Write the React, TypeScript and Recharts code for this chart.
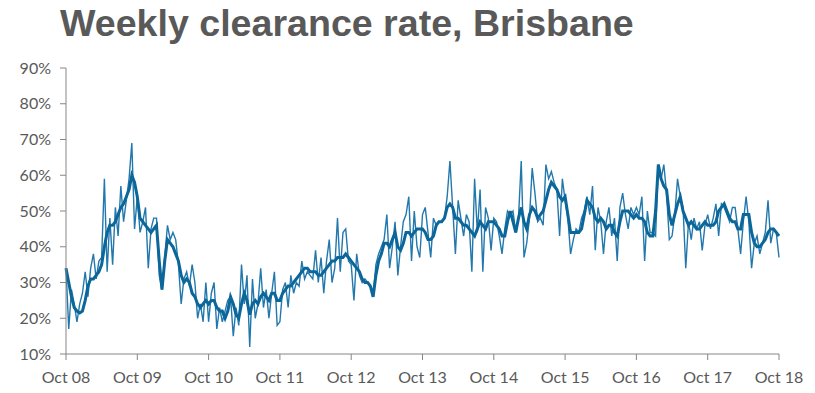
import { LineChart, Line, XAxis, YAxis } from "recharts";

// one point per fortnight, Oct 08 -> Oct 18 (26 per year + final point)
const xTickLabels = [
  "Oct 08", "Oct 09", "Oct 10", "Oct 11", "Oct 12", "Oct 13",
  "Oct 14", "Oct 15", "Oct 16", "Oct 17", "Oct 18",
];

const yTicks = [10, 20, 30, 40, 50, 60, 70, 80, 90];

const weeklyRate = [
  34, 17, 28, 24, 19, 24, 27, 33, 26, 34, 38, 31, 36, 37, 59, 33, 48, 35, 51, 43, 57, 47, 53, 59, 69, 45,
  54, 44, 47, 51, 34, 45, 48, 48, 32, 28, 37, 46, 42, 44, 42, 35, 24, 31, 33, 29, 35, 30, 20, 24, 19, 30,
  19, 27, 30, 17, 23, 19, 22, 25, 26, 15, 23, 18, 35, 24, 32, 12, 31, 20, 24, 34, 23, 28, 20, 27, 33, 18,
  19, 28, 30, 23, 32, 27, 30, 29, 36, 31, 33, 32, 31, 39, 30, 37, 27, 36, 42, 30, 34, 48, 33, 44, 45, 36,
  35, 25, 38, 32, 30, 31, 30, 29, 26, 35, 38, 40, 42, 49, 34, 40, 47, 32, 40, 47, 49, 54, 36, 50, 40, 37,
  49, 51, 44, 37, 48, 46, 47, 47, 48, 54, 64, 51, 38, 53, 48, 43, 49, 47, 33, 59, 44, 56, 33, 51, 48, 39,
  48, 47, 43, 38, 45, 50, 49, 50, 44, 48, 64, 37, 41, 48, 62, 55, 47, 48, 46, 63, 59, 61, 58, 56, 43, 59,
  53, 48, 38, 42, 45, 44, 48, 50, 54, 49, 57, 39, 51, 47, 38, 47, 51, 43, 48, 36, 51, 55, 49, 45, 51, 49,
  51, 49, 54, 36, 50, 44, 44, 43, 63, 59, 63, 55, 42, 43, 49, 59, 54, 51, 34, 47, 42, 48, 45, 47, 39, 46,
  49, 45, 48, 52, 43, 52, 51, 49, 47, 51, 51, 45, 38, 47, 54, 47, 34, 41, 43, 38, 41, 44, 53, 41, 45, 44,
  37,
];

const smoothedRate = [
  34, 30, 26, 23, 22, 21.5, 22, 25, 29, 31, 31, 32, 33, 35, 40, 44, 46, 46, 47, 49, 51, 52, 54, 56, 60, 58,
  54, 48, 47, 46, 45, 44, 45, 46, 36, 28, 36, 42, 41, 40, 38, 36, 32, 30, 31, 30, 27, 26, 24, 23, 24, 25,
  24, 25, 25, 23, 22, 22, 20, 22, 26, 24, 21, 20, 24, 27, 25, 21, 24, 25, 24, 26, 27, 26, 25, 27, 27, 25,
  25, 27, 28, 29, 29, 30, 31, 32, 33, 34, 34, 33, 33, 33, 32, 32, 33, 34, 35, 36, 36, 37, 37, 37, 38, 37,
  36, 35, 34, 33, 31, 30, 30, 29, 26, 32, 36, 38, 41, 41, 40, 42, 44, 40, 39, 41, 44, 44, 43, 44, 45, 45,
  45, 44, 42, 42, 43, 46, 47, 47, 48, 51, 52, 51, 48, 48, 47, 46, 46, 45, 44, 43, 45, 47, 46, 45, 47, 47,
  47, 46, 45, 43, 43, 47, 50, 47, 44, 48, 51, 47, 45, 49, 51, 50, 48, 49, 50, 53, 56, 58, 57, 56, 54, 53,
  54, 49, 44, 44, 44, 44, 45, 49, 53, 52, 51, 48, 47, 48, 47, 45, 46, 46, 44, 43, 47, 50, 50, 50, 49, 48,
  49, 48, 48, 47, 44, 43, 43, 50, 63, 59, 57, 56, 49, 46, 49, 52, 54, 50, 48, 46, 47, 46, 45, 45, 46, 47,
  46, 46, 46, 47, 50, 51, 52, 50, 48, 47, 47, 45, 45, 49, 49, 49, 44, 41, 40, 40, 41, 42, 44, 45, 45, 44,
  43,
];

const PER_YEAR = 26;
const AXIS_COLOR = "#868686";
const TEXT_COLOR = "#595959";
const TICK_FONT = { fill: TEXT_COLOR, fontSize: 16, fontFamily: "Lato, sans-serif" };

const chartData = weeklyRate.map((v, i) => ({
  t: i,
  weekly: v,
  smoothed: smoothedRate[i],
}));

const xTicks = xTickLabels.map((_, i) => i * PER_YEAR);

export default function App() {
  return (
    <div
      style={{
        position: "absolute",
        left: 0,
        top: 0,
        width: 815,
        height: 393,
        background: "#fff",
      }}
    >
      <div
        style={{
          position: "absolute",
          left: 60,
          top: 4,
          fontFamily: "'Liberation Sans', Arial, sans-serif",
          fontWeight: 700,
          fontSize: 37.6,
          lineHeight: "38px",
          color: TEXT_COLOR,
          whiteSpace: "nowrap",
        }}
      >
        Weekly clearance rate, Brisbane
      </div>
      <LineChart
        width={815}
        height={393}
        data={chartData}
        margin={{ top: 68, right: 36, bottom: 9, left: 0 }}
      >
        <XAxis
          dataKey="t"
          type="number"
          domain={[0, 260]}
          ticks={xTicks}
          interval={0}
          tickFormatter={(v: number) => xTickLabels[Math.round(v / PER_YEAR)]}
          stroke={AXIS_COLOR}
          tickSize={6}
          tickMargin={12}
          height={30}
          tick={TICK_FONT}
        />
        <YAxis
          type="number"
          domain={[10, 90]}
          ticks={yTicks}
          interval={0}
          tickFormatter={(v: number) => `${v}%`}
          stroke={AXIS_COLOR}
          tickSize={6}
          tickMargin={9}
          width={66}
          tick={TICK_FONT}
        />
        <Line
          dataKey="weekly"
          stroke="#2278AC"
          strokeWidth={1.4}
          dot={false}
          type="linear"
          isAnimationActive={false}
        />
        <Line
          dataKey="smoothed"
          stroke="#0B6699"
          strokeWidth={3}
          dot={false}
          type="linear"
          isAnimationActive={false}
        />
      </LineChart>
    </div>
  );
}
